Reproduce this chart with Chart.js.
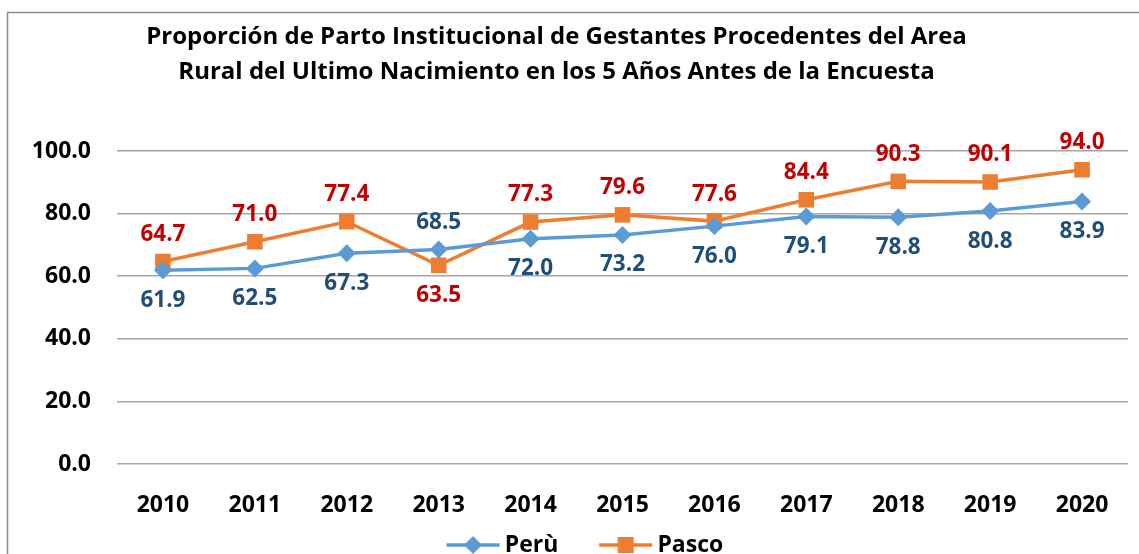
<!DOCTYPE html>
<html lang="es">
<head>
    <meta charset="UTF-8">
    <title>Parto Institucional - Area Rural</title>
    <script src="https://cdn.jsdelivr.net/npm/chart.js@4"></script>
    <style>
        html, body { margin: 0; padding: 0; background: #fff; overflow: hidden; }
        #wrap { width: 1139px; height: 554px; position: relative; }
    </style>
</head>
<body>
    <div id="wrap"><canvas id="parto-chart"></canvas></div>
    <script>
        // values
        const years = ['2010', '2011', '2012', '2013', '2014', '2015', '2016', '2017', '2018', '2019', '2020'];
        const peru = [61.9, 62.5, 67.3, 68.5, 72.0, 73.2, 76.0, 79.1, 78.8, 80.8, 83.9];
        const pasco = [64.7, 71.0, 77.4, 63.5, 77.3, 79.6, 77.6, 84.4, 90.3, 90.1, 94.0];
        const seriesNames = ['Perù', 'Pasco'];
        const titleLines = [
            'Proporción de Parto Institucional de Gestantes Procedentes del Area',
            'Rural del Ultimo Nacimiento en los 5 Años Antes de la Encuesta'
        ];

        const FONT = '"Open Sans"';
        const blue = '#5B9BD5', orange = '#ED7D31';
        const blueText = '#1F4E79', redText = '#C00000';

        // legend icon: short line with the marker in the middle.
        // the box is 77.5 wide, the icon is centred on it, so the line sits
        // in its right part and the blank left part gives the gap between items
        function legendIcon(color, shape) {
            const c = document.createElement('canvas');
            c.width = 92; c.height = 24;
            const g = c.getContext('2d');
            g.strokeStyle = color; g.lineWidth = 3.5;
            g.beginPath(); g.moveTo(38, 12); g.lineTo(91, 12); g.stroke();
            g.fillStyle = color;
            g.beginPath();
            if (shape === 'diamond') {
                g.moveTo(64.5, 3); g.lineTo(73.5, 12); g.lineTo(64.5, 21); g.lineTo(55.5, 12);
            } else {
                g.rect(56.5, 4, 16, 16);
            }
            g.closePath(); g.fill();
            return c;
        }
        const icons = [legendIcon(blue, 'diamond'), legendIcon(orange, 'square')];

        // frame around the chart (only left and top edges are visible)
        const framePlugin = {
            id: 'frame',
            beforeDraw(chart) {
                const ctx = chart.ctx;
                ctx.save();
                ctx.strokeStyle = '#8C8C8C';
                ctx.lineWidth = 1.5;
                ctx.strokeRect(7.5, 12.5, 1300, 700);
                ctx.restore();
            },
            afterLayout(chart) {
                // title is centred a bit left of the canvas centre
                if (chart.titleBlock) {
                    chart.titleBlock.left -= 13;
                    chart.titleBlock.right -= 13;
                }
            }
        };

        // value labels, placed on the side away from the other series
        const valueLabels = {
            id: 'valueLabels',
            afterDatasetsDraw(chart) {
                const ctx = chart.ctx;
                ctx.save();
                ctx.font = 'bold 22.5px ' + FONT;
                ctx.textAlign = 'center';
                ctx.textBaseline = 'middle';
                chart.data.datasets.forEach((ds, di) => {
                    const other = chart.data.datasets[1 - di].data;
                    const meta = chart.getDatasetMeta(di);
                    meta.data.forEach((pt, i) => {
                        const above = ds.data[i] > other[i];
                        ctx.fillStyle = di === 0 ? blueText : redText;
                        ctx.fillText(ds.data[i].toFixed(1), pt.x, pt.y + (above ? -27 : 30));
                    });
                });
                ctx.restore();
            }
        };

        const ctx = document.getElementById('parto-chart').getContext('2d');
        const partoChart = new Chart(ctx, {
            type: 'line',
            data: {
                labels: years,
                datasets: [{
                    label: seriesNames[0],
                    data: peru,
                    borderColor: blue,
                    backgroundColor: blue,
                    borderWidth: 3.5,
                    pointStyle: 'rectRot',
                    pointRadius: 9,
                    pointHoverRadius: 9,
                    pointBorderWidth: 0,
                    tension: 0
                }, {
                    label: seriesNames[1],
                    data: pasco,
                    borderColor: orange,
                    backgroundColor: orange,
                    borderWidth: 3.5,
                    pointStyle: 'rect',
                    pointRadius: 11,
                    pointHoverRadius: 11,
                    pointBorderWidth: 0,
                    tension: 0
                }]
            },
            options: {
                responsive: true,
                maintainAspectRatio: false,
                animation: false,
                layout: { padding: { left: 0, right: 0, top: 0, bottom: -12.5 } },
                plugins: {
                    title: {
                        display: true,
                        text: titleLines,
                        color: '#000',
                        font: { family: FONT, size: 24, weight: 'bold', lineHeight: 35 / 24 },
                        padding: { top: 19.5, bottom: 61.5 }
                    },
                    legend: {
                        position: 'bottom',
                        labels: {
                            usePointStyle: true,
                            pointStyleWidth: 77.5,
                            padding: 10,
                            color: '#000',
                            font: { family: FONT, size: 23, weight: 'bold' },
                            generateLabels(chart) {
                                return chart.data.datasets.map((ds, i) => ({
                                    text: ds.label,
                                    pointStyle: icons[i],
                                    fillStyle: ds.borderColor,
                                    strokeStyle: ds.borderColor,
                                    fontColor: '#000',
                                    lineWidth: 0,
                                    hidden: false,
                                    datasetIndex: i
                                }));
                            }
                        }
                    },
                    tooltip: { enabled: false }
                },
                scales: {
                    x: {
                        offset: true,
                        grid: { display: false },
                        border: { display: false },
                        ticks: {
                            color: '#000',
                            padding: 20,
                            maxRotation: 0,
                            font: { family: FONT, size: 23, weight: 'bold' }
                        },
                        afterFit(scale) { scale.height = 59.5; }
                    },
                    y: {
                        min: 0,
                        max: 100,
                        grid: { color: '#A6A6A6', lineWidth: 1.5, drawTicks: false },
                        border: { display: false },
                        ticks: {
                            stepSize: 20,
                            padding: 26,
                            color: '#000',
                            font: { family: FONT, size: 23, weight: 'bold' },
                            callback: v => v.toFixed(1)
                        },
                        afterFit(scale) { scale.width = 117; }
                    }
                }
            },
            plugins: [framePlugin, valueLabels]
        });
    </script>
</body>
</html>
